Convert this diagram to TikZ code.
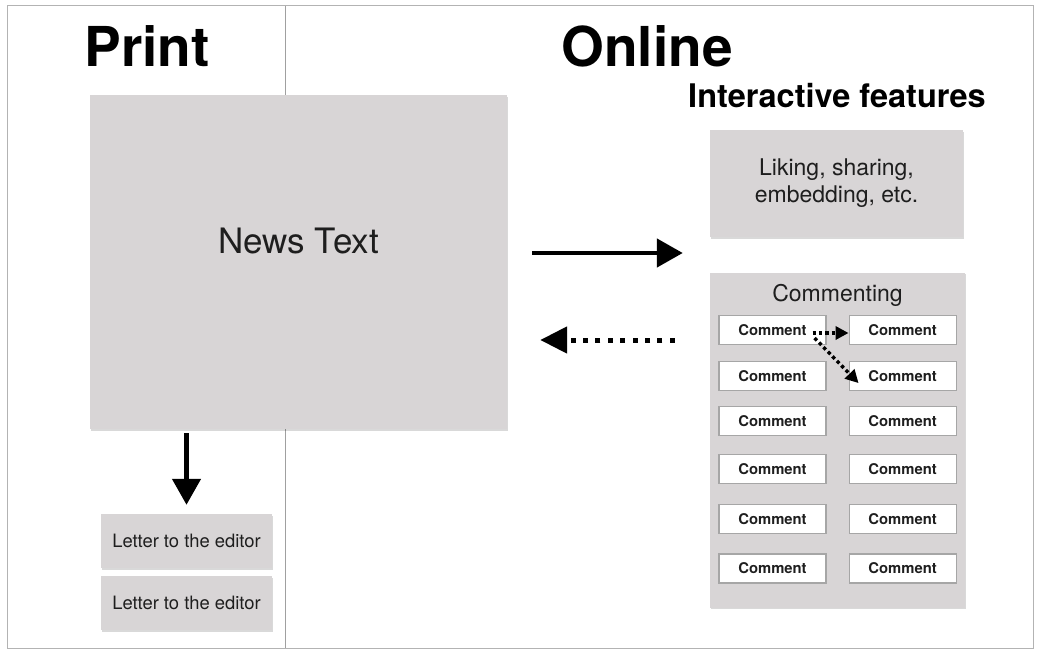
\documentclass[tikz,border=0pt]{standalone}
\usepackage{fontspec}
\setmainfont{TeX Gyre Heros}
\usepackage{tikz}
\usetikzlibrary{arrows.meta, positioning, shadows}

\definecolor{boxgray}{RGB}{216,213,214}
\definecolor{rulegray}{RGB}{160,160,160}
\definecolor{inkgray}{RGB}{30,30,30}

\begin{document}
\begin{tikzpicture}[x=1pt, y=-1pt, >=Triangle, every node/.style={font=\fontsize{18.4}{22}\selectfont, text=inkgray}]
    % grey panels, comment slips, headings and arrows
    \tikzset{
        panel/.style={fill=boxgray, draw=none, inner sep=0pt,
            drop shadow={shadow xshift=0.8pt, shadow yshift=-1.8pt, fill=black, opacity=0.15}},
        cmt/.style={draw=gray!70, line width=1.1pt, fill=white, minimum width=107pt,
            minimum height=29pt, inner sep=0pt, font=\fontsize{14.8}{16}\selectfont\bfseries},
        heading/.style={anchor=base, text=black, font=\fontsize{55}{60}\selectfont\bfseries},
        bigarrow/.style={line width=4.6pt, -{Triangle[length=26pt, width=28pt]}},
        dotbig/.style={line width=5pt, dash pattern=on 5pt off 7.4pt, -{Triangle[length=27pt, width=26pt]}},
        dotsmall/.style={line width=3.4pt, dash pattern=on 3.4pt off 3pt, -{Triangle[length=13pt, width=13pt]}}
    }
    \useasboundingbox (0,0) rectangle (1040,650);
    % frame and the print / online divider
    \draw[rulegray!80, line width=1pt] (7,6) rectangle (1033,648);
    \draw[rulegray, line width=1pt] (285,6) -- (285,648);
    % headings
    \node[heading] (print) at (147,67) {Print};
    \node[heading] (online) at (647,67) {Online};
    \node[anchor=base, text=black, font=\fontsize{32.5}{36}\selectfont\bfseries] (interactive) at (837,108) {Interactive features};
    % print side
    \node[panel, minimum width=417pt, minimum height=334pt] (news) at (298.5,262) {};
    \node[anchor=base, font=\fontsize{35}{40}\selectfont] (newslab) at ([yshift=9pt]news.center) {News Text};
    \node[panel, minimum width=171pt, minimum height=54pt] (letter1) at (186.5,541) {Letter to the editor};
    \node[panel, minimum width=171pt, minimum height=54pt, below=8pt of letter1] (letter2) {Letter to the editor};
    % online side
    \node[panel, minimum width=253pt, minimum height=107pt, align=center, font=\fontsize{23}{27}\selectfont] (liking) at (836.5,183.5) {Liking, sharing,\\embedding, etc.};
    \node[panel, minimum width=255pt, minimum height=335pt] (commenting) at (837.5,440) {};
    \node[anchor=base, font=\fontsize{23}{27}\selectfont] (commentlab) at ([yshift=-29pt]commenting.north) {Commenting};
    % comment slips, two columns
    \node[cmt] (c11) at (772.5,330) {Comment};
    \node[cmt, below=16pt of c11] (c21) {Comment};
    \node[cmt, below=15pt of c21] (c31) {Comment};
    \node[cmt, below=18pt of c31] (c41) {Comment};
    \node[cmt, below=20pt of c41] (c51) {Comment};
    \node[cmt, below=19pt of c51] (c61) {Comment};
    \node[cmt, right=22pt of c11] (c12) {Comment};
    \node[cmt, right=22pt of c21] (c22) {Comment};
    \node[cmt, right=22pt of c31] (c32) {Comment};
    \node[cmt, right=22pt of c41] (c42) {Comment};
    \node[cmt, right=22pt of c51] (c52) {Comment};
    \node[cmt, right=22pt of c61] (c62) {Comment};
    % arrows between the sides
    \coordinate (fwd) at ([yshift=9pt]news.east);
    \coordinate (back) at ([yshift=-78pt]news.east);
    \draw[bigarrow, shorten <=25pt, shorten >=27pt] (fwd) -- (fwd -| liking.west);
    \draw[dotbig, shorten <=35pt, shorten >=33pt] (back -| commenting.west) -- (back);
    \draw[bigarrow, shorten <=4pt, shorten >=9pt] (news.south -| letter1.north) -- (letter1.north);
    % replies between comments
    \draw[dotsmall] ([xshift=-14pt, yshift=-3pt]c11.east) -- ([yshift=-3pt]c12.west);
    \draw[dotsmall] ([xshift=-12pt, yshift=-8pt]c11.east) -- ([xshift=10pt, yshift=-7pt]c22.west);
\end{tikzpicture}
\end{document}
